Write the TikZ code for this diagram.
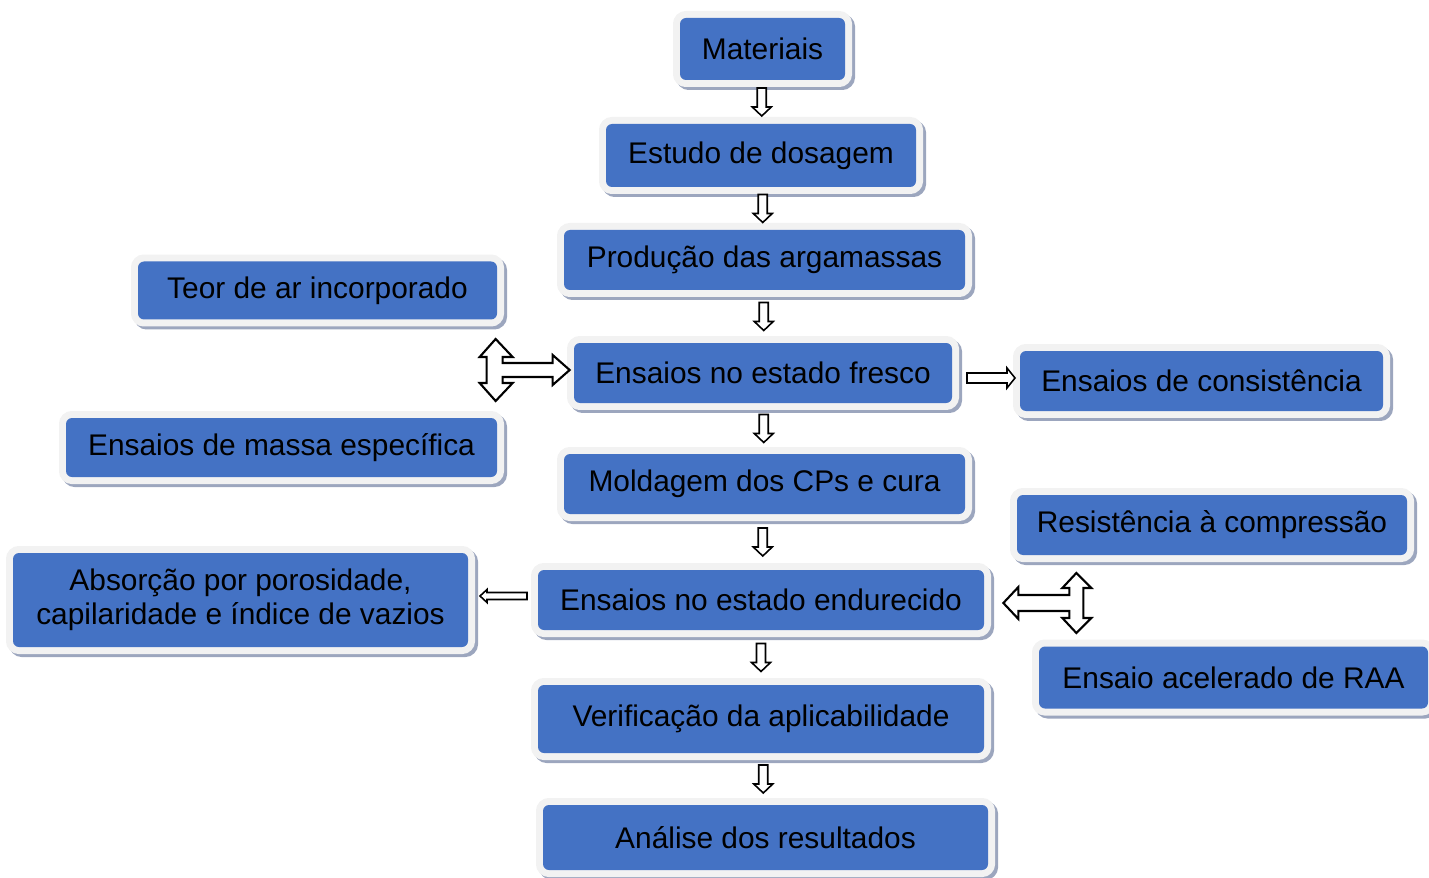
\documentclass[tikz,border=0pt]{standalone}
\usepackage{fontspec}
\setmainfont{Liberation Sans}
\usetikzlibrary{positioning,calc}
\def\upx{0.02cm}
\definecolor{azul}{RGB}{68,114,196}
\definecolor{borda}{RGB}{242,242,242}
\definecolor{sombra}{RGB}{156,166,190}
\tikzstyle{etapa}=[rectangle,rounded corners=0.12cm,fill=azul,text=black,inner sep=0pt,align=center,
  font=\fontsize{17}{19.4}\selectfont,
  preaction={draw=sombra,fill=sombra,line width=0.28cm,transform canvas={shift={(0.06cm,-0.06cm)}}},
  preaction={draw=borda,fill=borda,line width=0.28cm}]
\tikzstyle{seta}=[draw=black,fill=white,line width=0.9pt,line join=miter]
\newcommand{\newEtapa}[5]{\node[etapa,minimum width=#3*\upx,minimum height=#4*\upx](#1) at (#5) {#2};}
\newcommand{\newSeta}[2]{%
  \coordinate (m) at ($(#1.south)!0.5!(#2.north)$);
  \draw[seta] ($(m)+(-4.5,-14)$) -- ++(9,0) -- ++(0,19) -- ++(5,0) -- ++(-9.5,9) -- ++(-9.5,-9) -- ++(5,0) -- cycle;}

\begin{document}
\begin{tikzpicture}[x=\upx,y=-\upx]
  \useasboundingbox (0,0) rectangle (1429,878);
  % coluna central
  \newEtapa{mat}{Materiais}{165}{62}{762.5,49}
  \newEtapa{dos}{Estudo de dosagem}{310}{63}{761,155.5}
  \newEtapa{prod}{Produção das argamassas}{401}{60}{764.5,260}
  \newEtapa{fresco}{Ensaios no estado fresco}{378}{60}{763,373}
  \newEtapa{mold}{Moldagem dos CPs e cura}{401}{60}{764.5,484}
  \newEtapa{endur}{Ensaios no estado endurecido}{446}{60}{761,600}
  \newEtapa{verif}{Verificação da aplicabilidade}{446}{68}{761,719}
  \newEtapa{anal}{Análise dos resultados}{445}{65}{765.5,837.5}
  % ensaios laterais
  \newEtapa{teor}{Teor de ar incorporado}{359}{58}{317.5,290.5}
  \newEtapa{massa}{Ensaios de massa específica}{431}{59}{281.5,447.5}
  \newEtapa{cons}{Ensaios de consistência}{363}{60}{1201.5,381}
  \newEtapa{resist}{Resistência à compressão}{390}{60}{1212,525}
  \newEtapa{absor}{Absorção por porosidade,\\capilaridade e índice de vazios}{455}{94}{240.5,600}
  \newEtapa{raa}{Ensaio acelerado de RAA}{389}{62}{1233.5,677.5}
  % setas
  \newSeta{mat}{dos}
  \newSeta{dos}{prod}
  \newSeta{prod}{fresco}
  \newSeta{fresco}{mold}
  \newSeta{mold}{endur}
  \newSeta{endur}{verif}
  \newSeta{verif}{anal}
  \coordinate (d) at ($(fresco.east)!0.5!(cons.west)$);
  \draw[seta] ($(d)+(-19,-4)$) -- ++(40,0) -- ++(0,-5) -- ++(8,10) -- ++(-8,10) -- ++(0,-5) -- ++(-40,0) -- cycle;
  \coordinate (e) at ($(endur.west)!0.5!(absor.east)$);
  \draw[seta] ($(e)+(24,-7.5)$) -- ++(-40,0) -- ++(0,-3) -- ++(-7,6.5) -- ++(7,6.5) -- ++(0,-3) -- ++(40,0) -- cycle;
  \coordinate (tl) at ($(fresco.west)+(-4,-3)$);
  \draw[seta,line width=1.2pt,shift={(tl)}] (-74,-31) -- (-57,-13) -- (-67,-13) -- (-67,-7) -- (-17,-7) -- (-17,-15) -- (0,0) -- (-17,15) -- (-17,7) -- (-67,7) -- (-67,13) -- (-57,13) -- (-74,31) -- (-90,13) -- (-83,13) -- (-83,-13) -- (-90,-13) -- cycle;
  \coordinate (tr) at ($(endur.east)+(19,3)$);
  \draw[seta,line width=1.2pt,shift={(tr)}] (0,0) -- (15,-16) -- (15,-8) -- (66,-8) -- (66,-15) -- (59,-15) -- (73,-30) -- (88,-15) -- (80,-15) -- (80,15) -- (88,15) -- (73,30) -- (59,15) -- (66,15) -- (66,8) -- (15,8) -- (15,16) -- cycle;
\end{tikzpicture}
\end{document}
